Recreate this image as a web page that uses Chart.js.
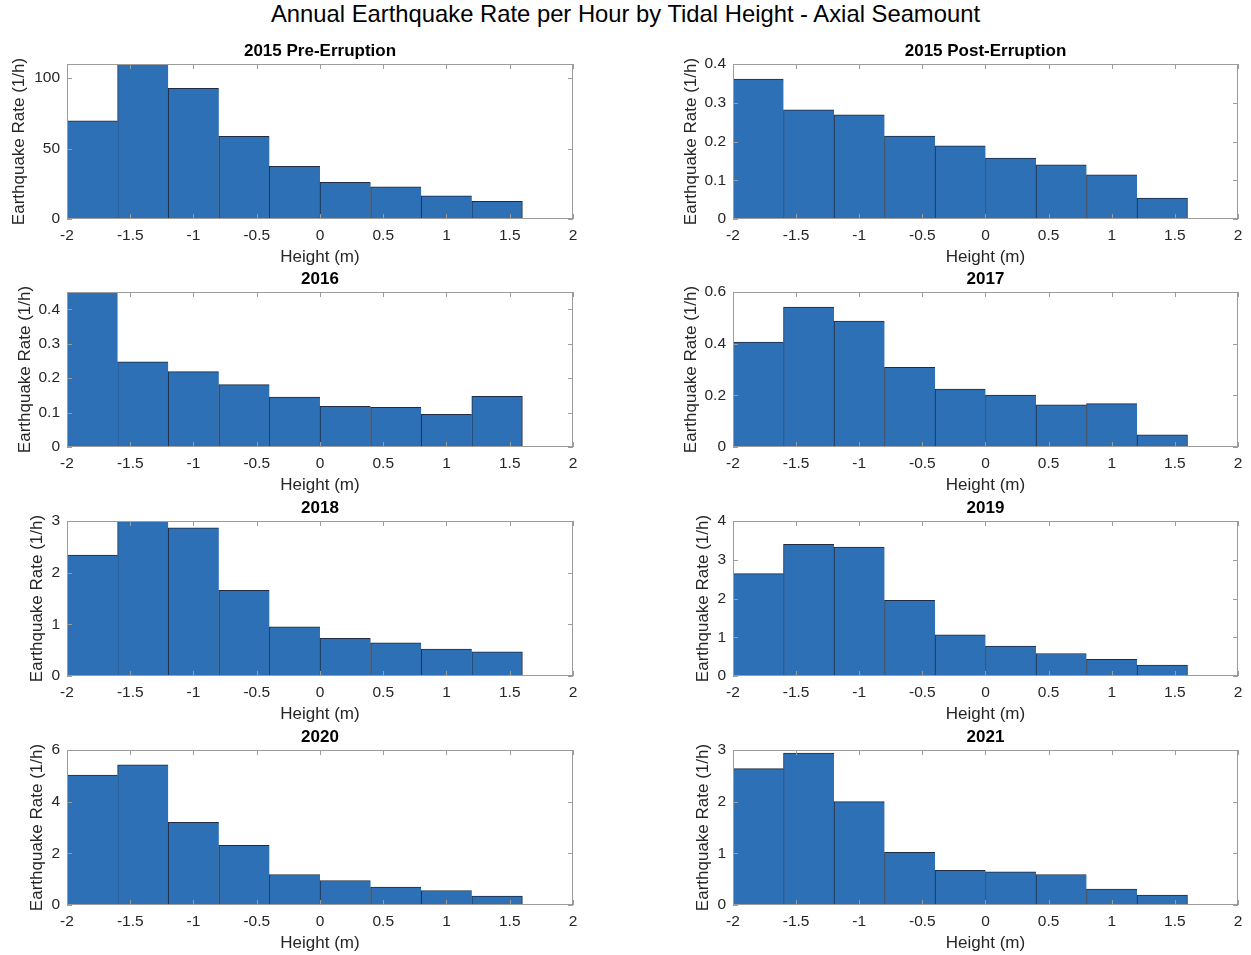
<!DOCTYPE html>
<html><head><meta charset="utf-8">
<script src="https://cdn.jsdelivr.net/npm/chart.js@4.4.1/dist/chart.umd.min.js"></script>
<style>
html,body{margin:0;padding:0;background:#fff;width:1251px;height:955px;overflow:hidden;}
body{position:relative;}
#sup{position:absolute;left:0;top:0;width:1251px;text-align:center;font-family:"Liberation Sans",Arial,Helvetica,sans-serif;font-size:23.8px;line-height:28px;color:#000;}
canvas.pane{position:absolute;display:block;}
</style></head><body>
<div id="sup">Annual Earthquake Rate per Hour by Tidal Height - Axial Seamount</div>
<script>
// ---- data ----
const binEdges = [-2, -1.6, -1.2, -0.8, -0.4, 0, 0.4, 0.8, 1.2, 1.6];
const xTicks = [-2, -1.5, -1, -0.5, 0, 0.5, 1, 1.5, 2];
const panelTitles = ['2015 Pre-Erruption', '2015 Post-Erruption', '2016', '2017', '2018', '2019', '2020', '2021'];
const rate2015Pre  = [69.7, 110, 92.7, 58.6, 37.4, 26.0, 22.9, 16.5, 12.5];
const rate2015Post = [0.361, 0.282, 0.269, 0.214, 0.189, 0.157, 0.140, 0.114, 0.054];
const rate2016     = [0.452, 0.247, 0.219, 0.181, 0.145, 0.118, 0.115, 0.095, 0.147];
const rate2017     = [0.406, 0.542, 0.487, 0.308, 0.224, 0.201, 0.163, 0.168, 0.047];
const rate2018     = [2.34, 3.02, 2.87, 1.66, 0.95, 0.73, 0.64, 0.52, 0.47];
const rate2019     = [2.64, 3.40, 3.33, 1.95, 1.06, 0.77, 0.58, 0.43, 0.28];
const rate2020     = [5.03, 5.43, 3.20, 2.31, 1.18, 0.95, 0.69, 0.56, 0.35];
const rate2021     = [2.64, 2.94, 2.00, 1.02, 0.67, 0.64, 0.59, 0.31, 0.19];
const yTicks2015Pre  = [0, 50, 100];
const yTicks2015Post = [0, 0.1, 0.2, 0.3, 0.4];
const yTicks2016     = [0, 0.1, 0.2, 0.3, 0.4];
const yTicks2017     = [0, 0.2, 0.4, 0.6];
const yTicks2018     = [0, 1, 2, 3];
const yTicks2019     = [0, 1, 2, 3, 4];
const yTicks2020     = [0, 2, 4, 6];
const yTicks2021     = [0, 1, 2, 3];
const yMaxes = [110, 0.4, 0.45, 0.6, 3, 4, 6, 3];
const xLabel = 'Height (m)';
const yLabel = 'Earthquake Rate (1/h)';

const allRates = [rate2015Pre, rate2015Post, rate2016, rate2017, rate2018, rate2019, rate2020, rate2021];
const allYTicks = [yTicks2015Pre, yTicks2015Post, yTicks2016, yTicks2017, yTicks2018, yTicks2019, yTicks2020, yTicks2021];

// ---- layout / style ----
const FONT = '"Liberation Sans", Arial, Helvetica, sans-serif';
const BAR_FILL = '#2d70b5';
const BAR_EDGE = 'rgba(18,32,56,0.95)';
const AXIS_COLOR = '#9c9c9c';
const TEXT_COLOR = '#262626';
const TICK_LEN = 5;
const Y_AXIS_W = 66;
const X_AXIS_H = 49;
const TITLE_H = 24;
const PLOT_H = 155;
const colPlotLeft = [67, 733];
const colPlotW = [506, 507];
const colPadRight = [12, 10];
const rowPlotTop = [64, 292, 521, 750];
const yTitlePad = [7.8, 13.8, 13.8, 13.8, 25.8, 26.3, 25.8, 26.3];

const boxPlugin = {
  id: 'matlabBox',
  afterDatasetsDraw(chart) {
    const {ctx, chartArea: a, scales: {x, y}} = chart;
    ctx.save();
    ctx.strokeStyle = AXIS_COLOR;
    ctx.lineWidth = 1;
    ctx.beginPath();
    x.ticks.forEach(t => {
      const px = Math.round(x.getPixelForValue(t.value)) + 0.5;
      ctx.moveTo(px, a.bottom); ctx.lineTo(px, a.bottom - TICK_LEN);
      ctx.moveTo(px, a.top); ctx.lineTo(px, a.top + TICK_LEN);
    });
    y.ticks.forEach(t => {
      const py = Math.round(y.getPixelForValue(t.value)) + 0.5;
      ctx.moveTo(a.left, py); ctx.lineTo(a.left + TICK_LEN, py);
      ctx.moveTo(a.right, py); ctx.lineTo(a.right - TICK_LEN, py);
    });
    ctx.stroke();
    ctx.strokeRect(Math.round(a.left) + 0.5, Math.round(a.top) + 0.5,
                   Math.round(a.right - a.left) - 1, Math.round(a.bottom - a.top) - 1);
    ctx.restore();
  }
};

panelTitles.forEach((title, i) => {
  const col = i % 2, row = Math.floor(i / 2);
  const canvas = document.createElement('canvas');
  canvas.className = 'pane';
  const w = Y_AXIS_W + colPlotW[col] + colPadRight[col];
  const h = TITLE_H + PLOT_H + X_AXIS_H;
  canvas.width = w; canvas.height = h;
  canvas.style.width = w + 'px'; canvas.style.height = h + 'px';
  canvas.style.left = (colPlotLeft[col] - Y_AXIS_W) + 'px';
  canvas.style.top = (rowPlotTop[row] - TITLE_H) + 'px';
  document.body.appendChild(canvas);

  const rates = allRates[i];
  const n = rates.length;
  const data = rates.map((v, k) => ({x: (binEdges[k] + (binEdges[k + 1] ?? binEdges[k] + 0.4)) / 2, y: v}));
  const yT = allYTicks[i];

  new Chart(canvas, {
    type: 'bar',
    data: {
      datasets: [{
        data,
        backgroundColor: BAR_FILL,
        borderColor: BAR_EDGE,
        borderWidth: c => ({top: 1, left: 1, bottom: 0, right: c.dataIndex === n - 1 ? 1 : 0}),
        borderSkipped: false,
        barPercentage: 1,
        categoryPercentage: 1
      }]
    },
    options: {
      responsive: false,
      animation: false,
      events: [],
      layout: {padding: {left: 0, top: 0, bottom: 0, right: colPadRight[col]}},
      plugins: {
        legend: {display: false},
        tooltip: {enabled: false},
        title: {
          display: true, text: title, color: '#000', fullSize: false,
          font: {family: FONT, size: 17, weight: 'bold'},
          padding: {top: 1.3, bottom: TITLE_H - 17 * 1.2 - 1.3}
        }
      },
      scales: {
        x: {
          type: 'linear', min: -2, max: 2, offset: false,
          afterBuildTicks: s => { s.ticks = xTicks.map(v => ({value: v})); },
          afterFit: s => { s.height = X_AXIS_H; },
          grid: {display: false, drawTicks: false, offset: false},
          border: {display: false},
          ticks: {color: TEXT_COLOR, font: {family: FONT, size: 15.5}, padding: 7.7,
                  maxRotation: 0, autoSkip: false, callback: v => String(v)},
          title: {display: true, text: xLabel, color: TEXT_COLOR,
                  font: {family: FONT, size: 17}, padding: {top: 0, bottom: 0}}
        },
        y: {
          type: 'linear', min: 0, max: yMaxes[i],
          afterBuildTicks: s => { s.ticks = yT.map(v => ({value: v})); },
          afterFit: s => { s.width = Y_AXIS_W; },
          grid: {display: false, drawTicks: false},
          border: {display: false},
          ticks: {color: TEXT_COLOR, font: {family: FONT, size: 15.5}, padding: 7,
                  autoSkip: false, callback: v => String(v)},
          title: {display: true, text: yLabel, color: TEXT_COLOR,
                  font: {family: FONT, size: 17}, padding: {top: yTitlePad[i], bottom: 0}}
        }
      }
    },
    plugins: [boxPlugin]
  });
});
</script>
</body></html>
